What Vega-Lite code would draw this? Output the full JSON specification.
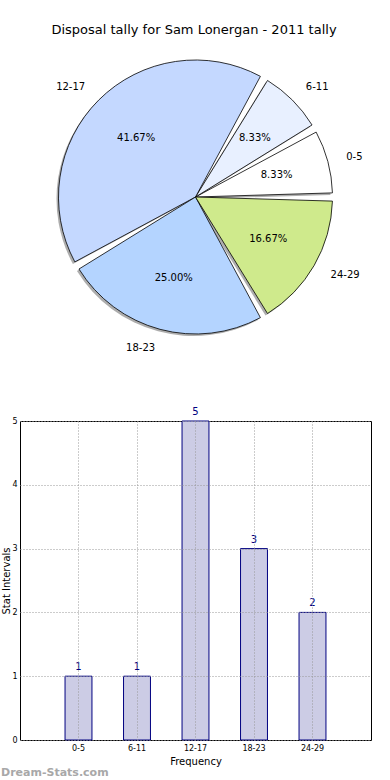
{
  "$schema": "https://vega.github.io/schema/vega-lite/v6.json",
  "padding": {"top": 24, "left": 0, "right": 0, "bottom": 0},
  "config": {"font": "DejaVu Sans", "view": {"stroke": null}},
  "title": {"text": "Disposal tally for Sam Lonergan - 2011 tally", "fontSize": 13, "fontWeight": "normal", "font": "DejaVu Sans", "color": "#000000", "anchor": "middle", "offset": 10, "dx": 8},
  "spacing": 53,
  "vconcat": [
    {
      "width": 351,
      "height": 300,
      "data": {"values": [
        {"i": 1, "cat": "0-5", "value": 1, "pct": "8.33%"},
        {"i": 2, "cat": "6-11", "value": 1, "pct": "8.33%"},
        {"i": 3, "cat": "12-17", "value": 5, "pct": "41.67%"},
        {"i": 4, "cat": "18-23", "value": 3, "pct": "25.00%"},
        {"i": 5, "cat": "24-29", "value": 2, "pct": "16.67%"}
      ]},
      "encoding": {
        "theta": {"field": "value", "type": "quantitative", "stack": true, "scale": {"range": [1.5708, -4.7124]}},
        "order": {"field": "i", "type": "quantitative"}
      },
      "layer": [
        {"mark": {"type": "arc", "outerRadius": 137, "padAngle": 0.06, "xOffset": -2, "yOffset": 2, "fill": "#777777", "opacity": 0.6}},
        {"mark": {"type": "arc", "outerRadius": 137, "padAngle": 0.06, "stroke": "#000000", "strokeWidth": 0.8},
         "encoding": {"color": {"field": "cat", "type": "nominal", "legend": null,
           "scale": {"domain": ["0-5", "6-11", "12-17", "18-23", "24-29"], "range": ["#ffffff", "#e8f0ff", "#c4d8ff", "#b4d4ff", "#cfea8c"]}}}},
        {"mark": {"type": "text", "radius": 84, "fontSize": 10, "color": "#000000"}, "encoding": {"text": {"field": "pct"}}},
        {"mark": {"type": "text", "radius": 156, "fontSize": 10, "align": "left", "color": "#000000"},
         "encoding": {"text": {"condition": {"test": "datum.cat != '12-17' && datum.cat != '18-23'", "field": "cat"}, "value": ""}}},
        {"mark": {"type": "text", "radius": 156, "fontSize": 10, "align": "right", "color": "#000000"},
         "encoding": {"text": {"condition": {"test": "datum.cat == '12-17' || datum.cat == '18-23'", "field": "cat"}, "value": ""}}}
      ]
    },
    {
      "width": 351,
      "height": 319,
      "view": {"stroke": "#000000", "strokeWidth": 1},
      "title": {"text": "Dream-Stats.com", "orient": "bottom", "anchor": "start", "frame": "group", "fontSize": 11, "fontWeight": "bold", "color": "#a8a8a8", "dx": -19, "offset": 1},
      "data": {"values": [
        {"cat": "0-5", "count": 1},
        {"cat": "6-11", "count": 1},
        {"cat": "12-17", "count": 5},
        {"cat": "18-23", "count": 3},
        {"cat": "24-29", "count": 2}
      ]},
      "encoding": {
        "x": {"field": "cat", "type": "nominal", "sort": null, "scale": {"paddingInner": 0, "paddingOuter": 0.5},
          "axis": {"title": "Frequency", "titleFontSize": 10, "titleFontWeight": "normal", "labelFontSize": 8, "labelAngle": 0, "labelPadding": 4, "titlePadding": 4, "ticks": false, "domain": false, "grid": true, "gridDash": [1, 2], "gridColor": "#999999", "bandPosition": 0.5, "zindex": 1}},
        "y": {"field": "count", "type": "quantitative", "scale": {"domain": [0, 5], "nice": false},
          "axis": {"title": "Stat Intervals", "titleFontSize": 10, "titleFontWeight": "normal", "labelFontSize": 8, "values": [0, 1, 2, 3, 4, 5], "labelPadding": 3, "titlePadding": 0, "ticks": false, "domain": false, "grid": true, "gridDash": [1, 2], "gridColor": "#999999", "zindex": 1}}
      },
      "layer": [
        {"mark": {"type": "bar", "width": {"band": 0.46}, "fill": "#ccccE5", "stroke": "#000080", "strokeWidth": 1}},
        {"mark": {"type": "text", "dy": -9, "fontSize": 10, "color": "#000080"}, "encoding": {"text": {"field": "count"}}}
      ]
    }
  ]
}
